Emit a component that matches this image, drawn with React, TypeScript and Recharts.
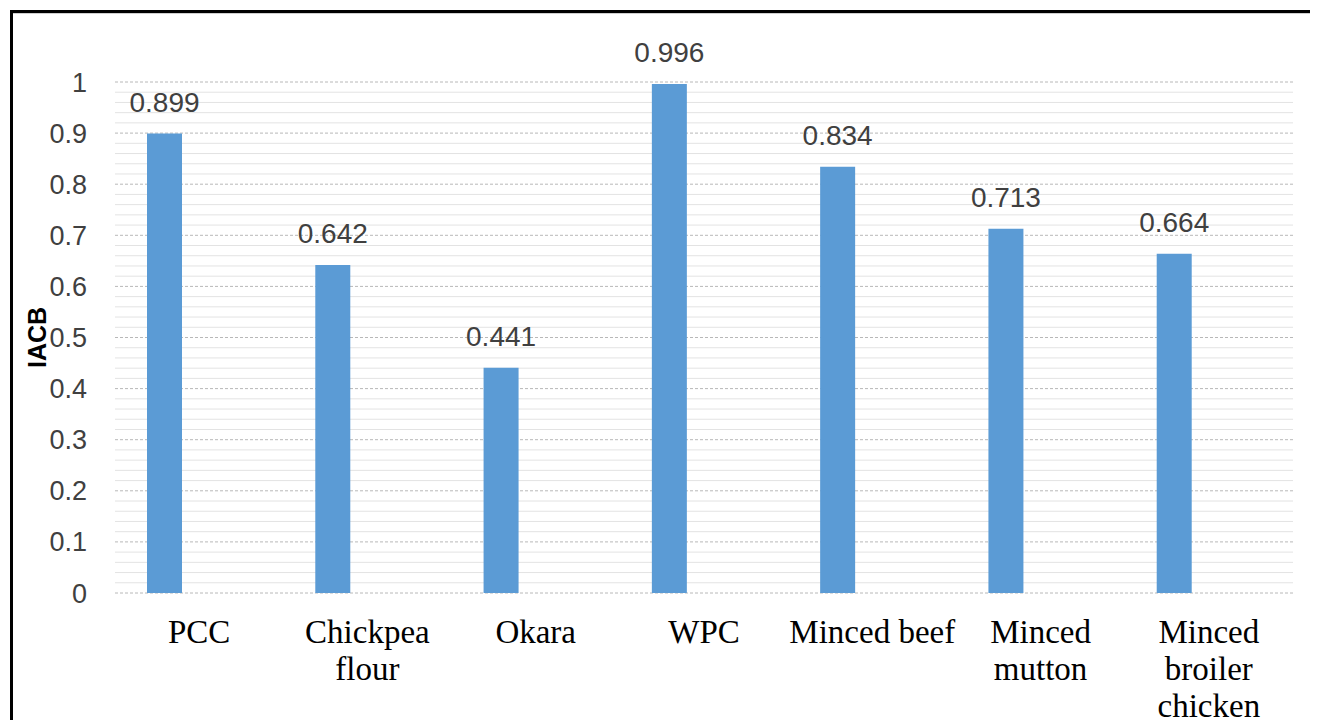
import React from "react";
import { BarChart, Bar, XAxis, YAxis, CartesianGrid, LabelList, Label } from "recharts";

const CATEGORIES = ["PCC", "Chickpea flour", "Okara", "WPC", "Minced beef", "Minced mutton", "Minced broiler chicken"];
// how each category name is broken over lines under the axis
const CATEGORY_LINES = [
  ["PCC"],
  ["Chickpea", "flour"],
  ["Okara"],
  ["WPC"],
  ["Minced beef"],
  ["Minced", "mutton"],
  ["Minced", "broiler", "chicken"],
];
const IACB = [0.899, 0.642, 0.441, 0.996, 0.834, 0.713, 0.664];
const Y_TICKS = [0, 0.1, 0.2, 0.3, 0.4, 0.5, 0.6, 0.7, 0.8, 0.9, 1];
const Y_DOMAIN: [number, number] = [0, 1];
// minor gridlines every 0.02 between the major ticks
const MINOR_TICKS = Array.from({ length: 51 }, (_, i) => (i * 2) / 100).filter(
  (v) => Math.round(v * 100) % 10 !== 0
);

const data = CATEGORIES.map((name, i) => ({ name, iacb: IACB[i] }));

const SANS = "'Liberation Sans', Arial, sans-serif";
const SERIF = "'Liberation Serif', 'Times New Roman', serif";

function CategoryTick(props: any) {
  const { x, y, payload } = props;
  const lines = CATEGORY_LINES[CATEGORIES.indexOf(payload.value)] ?? [payload.value];
  return (
    <text x={x} y={y + 50} textAnchor="middle" fontFamily={SERIF} fontSize={33} fill="#000">
      {lines.map((line: string, i: number) => (
        <tspan key={i} x={x} dy={i === 0 ? 0 : 37}>
          {line}
        </tspan>
      ))}
    </text>
  );
}

// y positions of the minor gridlines on the linear value axis
function minorLines({ offset }: any) {
  const [lo, hi] = Y_DOMAIN;
  return MINOR_TICKS.map((v) => offset.top + offset.height * (1 - (v - lo) / (hi - lo)));
}

export default function App() {
  return (
    <div style={{ position: "relative", width: 1302, height: 712, background: "#fff" }}>
      <style>{"html, body { overflow: hidden; background: #fff; }"}</style>
      {/* frame: only the top and left edges fall inside the picture */}
      <div style={{ position: "absolute", left: 2, top: 2, width: 1308, height: 3, background: "#000" }} />
      <div style={{ position: "absolute", left: 5, top: 5, width: 1305, height: 1, background: "#cfcfcf" }} />
      <div style={{ position: "absolute", left: 2, top: 2, width: 3, height: 718, background: "#000" }} />
      <div style={{ position: "absolute", left: 0, top: 0 }}>
        <BarChart
          width={1302}
          height={720}
          data={data}
          margin={{ top: 74, right: 17, bottom: 35, left: 0 }}
          barGap={0}
        >
          <CartesianGrid
            vertical={false}
            stroke="#e3e3e3"
            horizontalCoordinatesGenerator={minorLines}
          />
          <CartesianGrid vertical={false} stroke="#b8b8b8" strokeDasharray="3 2" />
          <XAxis
            dataKey="name"
            axisLine={false}
            tickLine={false}
            tickSize={0}
            tickMargin={0}
            height={100}
            interval={0}
            tick={<CategoryTick />}
          />
          <YAxis
            domain={Y_DOMAIN}
            ticks={Y_TICKS}
            width={107}
            axisLine={false}
            tickLine={false}
            tickSize={0}
            tickMargin={28}
            tick={{ fontFamily: SANS, fontSize: 27, fill: "#404040" }}
          >
            <Label
              content={({ viewBox }: any) => {
                const cx = 29;
                const cy = viewBox.y + viewBox.height / 2;
                return (
                  <text
                    x={cx}
                    y={cy}
                    transform={`rotate(-90 ${cx} ${cy})`}
                    textAnchor="middle"
                    dominantBaseline="central"
                    fontFamily={SANS}
                    fontWeight="bold"
                    fontSize={25}
                    fill="#000"
                  >
                    IACB
                  </text>
                );
              }}
            />
          </YAxis>
          <Bar dataKey="iacb" fill="#5B9BD5" barSize={35} isAnimationActive={false}>
            <LabelList
              dataKey="iacb"
              position="top"
              offset={22}
              style={{ fontFamily: SANS, fontSize: 28, fill: "#404040" }}
            />
          </Bar>
          <Bar dataKey="empty2" fill="#ED7D31" barSize={35} isAnimationActive={false} />
          <Bar dataKey="empty3" fill="#A5A5A5" barSize={35} isAnimationActive={false} />
        </BarChart>
      </div>
    </div>
  );
}
